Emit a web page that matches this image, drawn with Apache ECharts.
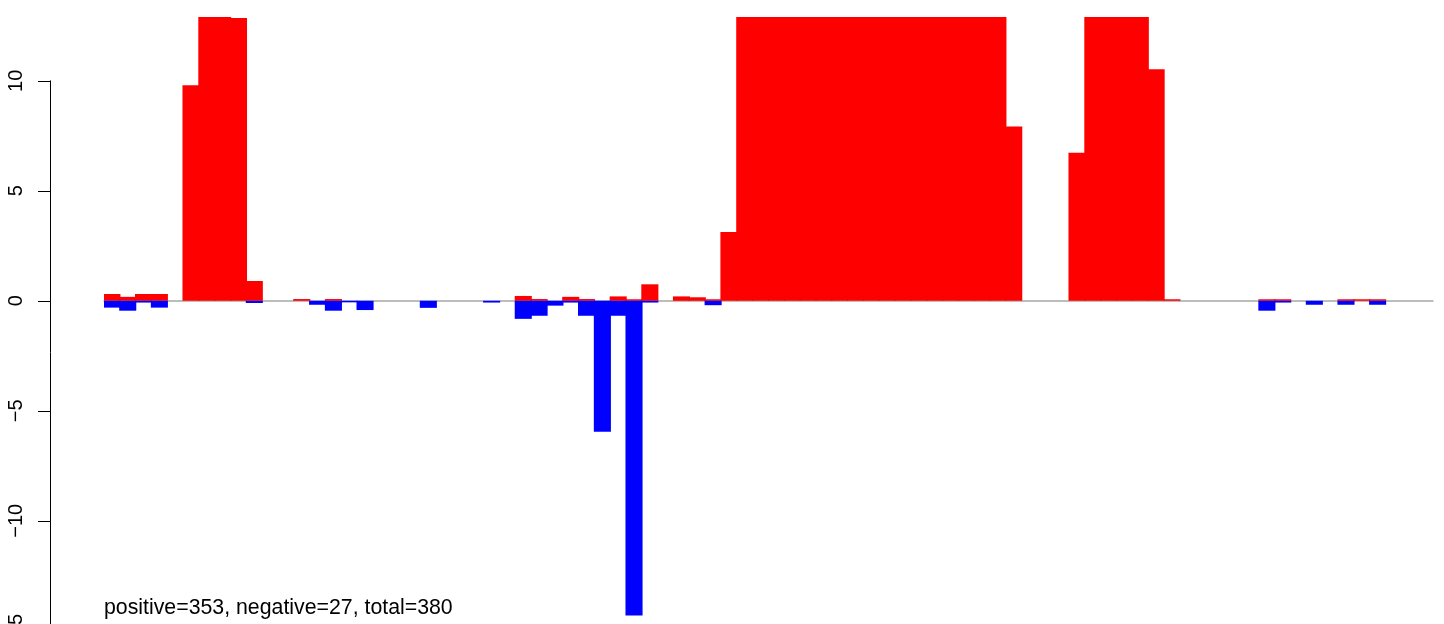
<!DOCTYPE html>
<html>
<head>
<meta charset="utf-8">
<script src="https://cdn.jsdelivr.net/npm/echarts@6/dist/echarts.min.js"></script>
<style>
html,body{margin:0;padding:0;background:#fff;}
#chart{width:1444px;height:624px;}
</style>
</head>
<body>
<div id="chart"></div>
<script>
// Bin index (84 bins)
const categories = Array.from({length: 84}, (_, i) => String(i + 1));

// Positive (red) bar heights per bin; bars above ~12.9 are clipped by the plot region
const positiveValues = [
  0.31, 0.18, 0.31, 0.31, 0, 9.8, 14, 14, 12.85, 0.9,
  0, 0, 0.08, 0, 0.08, 0, 0, 0, 0, 0,
  0, 0, 0, 0, 0, 0, 0.22, 0.08, 0, 0.18,
  0.08, 0, 0.2, 0.07, 0.75, 0, 0.2, 0.16, 0.07, 3.13,
  14, 14, 14, 14, 14, 14, 14, 14, 14, 14,
  14, 14, 14, 14, 14, 14, 14, 7.92, 0, 0,
  0, 6.73, 14, 14, 14, 14, 10.52, 0.07, 0, 0,
  0, 0, 0, 0.07, 0.07, 0, 0, 0, 0.07, 0.07,
  0.07, 0, 0, 0
];

// Negative (blue) bar heights per bin
const negativeValues = [
  -0.31, -0.45, -0.08, -0.31, 0, 0, 0, 0, 0, -0.1,
  0, 0, 0, -0.18, -0.45, -0.07, -0.42, 0, 0, 0,
  -0.32, 0, 0, 0, -0.08, 0, -0.82, -0.68, -0.22, -0.08,
  -0.68, -5.95, -0.68, -14.3, -0.08, 0, 0, 0, -0.2, 0,
  0, 0, 0, 0, 0, 0, 0, 0, 0, 0,
  0, 0, 0, 0, 0, 0, 0, 0, 0, 0,
  0, 0, 0, 0, 0, 0, 0, 0, 0, 0,
  0, 0, 0, -0.45, -0.08, 0, -0.18, 0, -0.18, 0,
  -0.18, 0, 0, 0
];

// Y axis tick range
const yTickMin = -15;
const yTickMax = 10;
const yTickStep = 5;
const yPlotMax = 12.9;

const summaryText = 'positive=353, negative=27, total=380';

const FONT = 'Liberation Sans, Arial, Helvetica, sans-serif';
const chart = echarts.init(document.getElementById('chart'), null, {renderer: 'canvas'});

const pxPerUnit = 22.0;
const plotTop = 17;
const gridLeft = 104;
const gridRight = 11;
const plotHeight = (yPlotMax - yTickMin) * pxPerUnit;
const axisTop = plotTop + (yPlotMax - yTickMax) * pxPerUnit;
const axisHeight = (yTickMax - yTickMin) * pxPerUnit;

// zero-height bins are left empty so no sliver is drawn
const toSeries = arr => arr.map(v => (v === 0 ? null : v));

const option = {
  backgroundColor: '#ffffff',
  animation: false,
  title: {
    text: summaryText,
    left: gridLeft,
    top: 598,
    padding: 0,
    textStyle: {fontFamily: FONT, fontSize: 21.3, fontWeight: 'normal', color: '#000'}
  },
  grid: [
    {left: gridLeft, right: gridRight, top: plotTop, height: plotHeight, containLabel: false, outerBoundsMode: 'none'},
    {left: gridLeft, right: gridRight, top: axisTop, height: axisHeight, containLabel: false, outerBoundsMode: 'none'}
  ],
  xAxis: [
    {
      type: 'category', gridIndex: 0, data: categories, boundaryGap: true,
      axisLine: {show: true, onZero: true, lineStyle: {color: '#a8a8a8', width: 1.5}},
      axisTick: {show: false}, axisLabel: {show: false}, splitLine: {show: false}
    },
    {
      type: 'category', gridIndex: 1, data: categories, show: false
    }
  ],
  yAxis: [
    {
      type: 'value', gridIndex: 0, min: yTickMin, max: yPlotMax, show: false,
      splitLine: {show: false}
    },
    {
      type: 'value', gridIndex: 1, min: yTickMin, max: yTickMax, interval: yTickStep,
      position: 'left', offset: gridLeft - 50,
      axisLine: {show: true, lineStyle: {color: '#000', width: 1}},
      axisTick: {show: true, length: 12, lineStyle: {color: '#000', width: 1}},
      axisLabel: {
        show: true, rotate: 90, margin: 24,
        fontFamily: FONT, fontSize: 20, color: '#000',
        formatter: v => String(v).replace('-', '\u2212')
      },
      splitLine: {show: false}
    }
  ],
  series: [
    {
      name: 'positive', type: 'bar', xAxisIndex: 0, yAxisIndex: 0,
      data: toSeries(positiveValues), barWidth: '108%', barGap: '-100%', clip: true,
      itemStyle: {color: '#ff0000'}
    },
    {
      name: 'negative', type: 'bar', xAxisIndex: 0, yAxisIndex: 0,
      data: toSeries(negativeValues), barWidth: '108%', barGap: '-100%', clip: true,
      itemStyle: {color: '#0000ff'}
    }
  ]
};
chart.setOption(option);
</script>
</body>
</html>
